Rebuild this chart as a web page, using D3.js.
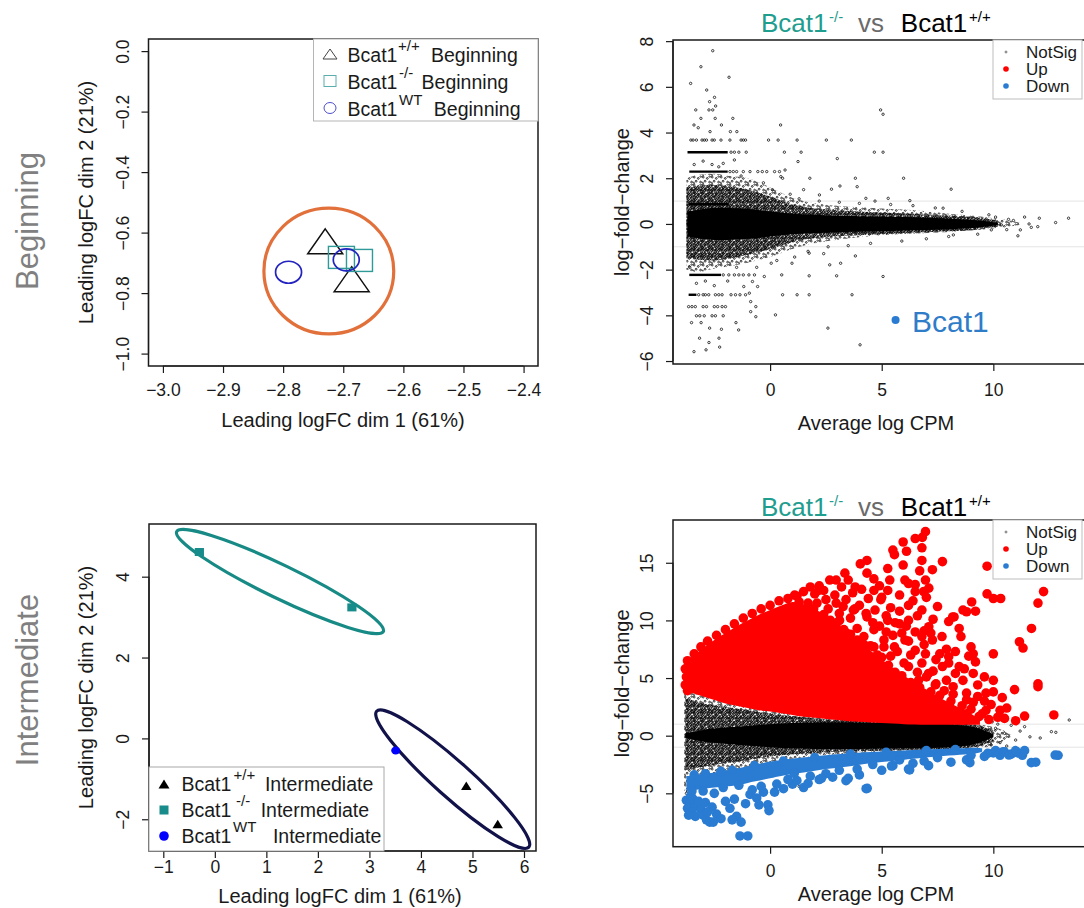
<!DOCTYPE html>
<html>
<head>
<meta charset="utf-8">
<script src="https://cdn.jsdelivr.net/npm/d3@7/dist/d3.min.js"></script>
<style>
  body { margin: 0; background: #fff; }
</style>
</head>
<body>
<div id="chart"></div>
<script>
/**
 * MDS coordinates, Beginning stage (dim1, dim2)
 */
var mdsBegTri = [[-2.730, -0.629], [-2.686, -0.754]];
var mdsBegSq = [[-2.703, -0.682], [-2.673, -0.692]];
var mdsBegCirc = [[-2.791, -0.731], [-2.695, -0.690]];
// center, end of major axis, end of minor axis
var begCircle = [[-2.724, -0.727], [-2.616, -0.727], [-2.724, -0.519]];

/**
 * MDS coordinates, Intermediate stage
 */
var mdsIntTri = [[4.88, -1.17], [5.49, -2.12]];
var mdsIntSq = [[-0.30, 4.61], [2.66, 3.24]];
var mdsIntCirc = [[3.51, -0.30]];
var koEllipse = [[1.265, 3.88], [-0.740, 5.115], [1.125, 3.51]];
var wtEllipse = [[4.617, -1.009], [3.140, 0.672], [4.385, -1.335]];

var begXTicks = [-3.0, -2.9, -2.8, -2.7, -2.6, -2.5, -2.4];
var begYTicks = [-1.0, -0.8, -0.6, -0.4, -0.2, 0.0];
var intXTicks = [-1, 0, 1, 2, 3, 4, 5, 6];
var intYTicks = [-2, 0, 2, 4];
var maXTicks = [0, 5, 10];
var maBegYTicks = [-6, -4, -2, 0, 2, 4, 6, 8];
var maIntYTicks = [-5, 0, 5, 10, 15];

var genoSup = ["+/+", "-/-", "WT"];

/**
 * MD plot, Beginning: cloud envelopes [avgLogCPM, low, high]
 */
var maBegOuter = [[-3.75, -2.0, 2.0], [-3.2, -2.1, 2.15], [-2.5, -1.95, 2.2], [-1.8, -1.85, 2.1], [-1.0, -1.7, 2.0],
  [0, -1.45, 1.6], [1, -1.1, 1.15], [2, -0.85, 0.9], [3.4, -0.65, 0.76], [5, -0.5, 0.68], [6.5, -0.42, 0.6],
  [8, -0.35, 0.45], [9.1, -0.28, 0.36], [10.4, -0.16, 0.2], [11.2, -0.04, 0.05]];
var maBegInner = [[-3.75, -1.5, 1.6], [-2.5, -1.6, 1.7], [-1.0, -1.35, 1.5], [0, -1.1, 1.2], [1, -0.8, 0.85],
  [2, -0.62, 0.68], [3.4, -0.52, 0.58], [5, -0.45, 0.5], [6.5, -0.38, 0.44], [8, -0.32, 0.37], [9.1, -0.26, 0.3],
  [10.2, -0.12, 0.15]];
var maBegCore = [[-3.7, -0.55, 0.55], [-2.5, -0.7, 0.7], [-1, -0.65, 0.65], [0, -0.55, 0.55], [1, -0.45, 0.45],
  [2, -0.4, 0.4], [3, -0.36, 0.36], [5, -0.32, 0.32], [7, -0.27, 0.27], [8.5, -0.21, 0.21], [9.5, -0.14, 0.14],
  [10.2, -0.05, 0.05]];
// rows of overlapping low-count genes [logFC, from, to]
var maBegStrips = [[3.14, -3.7, -1.9], [2.29, -3.62, -1.9], [0.86, -3.65, -1.85], [0, -3.75, -2.6],
  [-2.23, -3.62, -2.2], [-3.1, -3.65, -3.3]];
var maBegPts = [[-2.57, 7.58], [-3.10, 6.88], [-3.56, 6.15], [-1.84, 6.42], [-2.84, 5.86], [-2.49, 5.54], [-2.71, 5.35],
  [-2.44, 5.16], [-3.33, 4.99], [-2.74, 4.99], [-2.57, 4.99], [-3.10, 4.62], [-2.46, 4.62], [-1.67, 4.62], [-3.41, 4.33],
  [-3.22, 4.21], [-2.18, 4.33], [-2.69, 4.04], [-1.78, 4.04], [-1.49, 4.04], [0.47, 4.33], [4.95, 4.99], [5.06, 4.8],
  [-3.55, 3.67], [-3.45, 3.67], [-3.3, 3.67], [-3.05, 3.67], [-2.95, 3.67], [-2.85, 3.67], [-2.6, 3.67], [-2.5, 3.67],
  [-2.2, 3.67], [-1.8, 3.67], [-1.3, 3.67], [-1.2, 3.67], [-1.1, 3.67], [-0.07, 3.67], [0.36, 3.67], [1.21, 3.67],
  [2.52, 3.67], [3.64, 3.67], [-1.75, 3.14], [-1.6, 3.14], [-1.4, 3.14], [-1.07, 3.14], [0.64, 3.14], [1.39, 3.14],
  [4.67, 3.14], [5.06, 3.14],
  [1.25, 2.73], [3.01, 2.86], [-3.0, 2.75], [-2.6, 2.6], [-2.1, 2.65], [-1.6, 2.8], [-3.4, 2.6], [-2.3, 2.5],
  [-1.8, 2.29], [-1.65, 2.29], [-1.5, 2.29], [-1.2, 2.29], [-0.9, 2.29], [-0.55, 2.29], [-0.35, 2.29], [-0.15, 2.29],
  [0.2, 2.29], [0.42, 2.29],
  [0.67, 2.36], [0.48, 2.07], [5.98, 2.0], [8.11, 1.52], [2.75, 1.52], [3.13, 1.66], [3.9, 1.63], [3.82, 2.0],
  [1.78, 2.0], [0.56, 2.0], [2.21, 1.27], [4.29, 1.12], [5.29, 1.12], [6.26, 1.02], [7.75, 0.69],
  [13.37, 0.25], [12.79, 0.06], [12.06, 0.25], [11.6, 0.0], [11.99, -0.12], [11.21, -0.26], [11.1, -0.52],
  [10.68, 0.2], [10.36, -0.04], [8.21, -0.48], [9.91, -0.26],
  [3.82, -1.4], [1.75, -1.28], [0.98, -1.72], [0.52, -2.23], [1.75, -2.27], [2.67, -1.79], [3.16, -1.72],
  [2.98, -2.27], [5.06, -2.3], [-2.1, -2.23], [-1.85, -2.23], [-1.6, -2.23], [-1.4, -2.23], [-1.2, -2.23],
  [-0.95, -2.23], [-0.7, -2.23],
  [-3.2, -3.1], [-3.0, -3.1], [-2.9, -3.1], [-2.75, -3.1], [-2.45, -3.1], [-2.3, -3.1],
  [-2.15, -3.1], [-1.75, -3.1], [-1.55, -3.1], [-1.35, -3.1], [-1.1, -3.1], [0.56, -3.1], [1.21, -3.1], [1.75, -3.1],
  [3.67, -3.1], [-3.65, -3.62], [-3.5, -3.62], [-3.35, -3.62], [-3.0, -3.62], [-2.85, -3.62], [-2.5, -3.62],
  [-2.35, -3.62], [-2.15, -3.62], [-2.0, -3.62], [-0.64, -3.62], [-3.3, -4.02], [-3.15, -4.02], [-2.95, -4.02],
  [-2.6, -4.02], [-2.45, -4.02], [-2.1, -4.02], [0.24, -3.98], [-0.64, -4.06], [-0.87, -3.4], [2.59, -4.56],
  [4.03, -5.29], [-2.87, -5.51], [-3.41, -5.59], [-2.26, -5.39], [-2.29, -5.0], [-2.74, -5.19], [-3.16, -5.0],
  [-2.71, -4.56], [-2.18, -4.61], [-1.41, -4.64], [-3.52, -4.32], [-1.53, -4.32], [-3.09, -4.32], [-0.87, -3.84],
  [-0.56, -2.74], [-0.79, -2.52], [-1.18, -2.74], [-0.93, -3.03], [-0.26, -2.3], [0.05, -1.72],
  [-3.3, -2.6], [-2.9, -2.5], [-2.5, -2.7], [-1.9, -2.5], [-3.6, -1.9], [-1.5, -1.9],
  [0.9, 1.3], [1.3, 1.1], [1.7, -1.2], [2.2, 1.0], [2.6, -1.0], [3.1, 0.95], [3.5, -0.95], [4.0, 0.9], [4.5, -0.85],
  [4.7, 1.0], [5.4, 0.85], [5.9, -0.75], [6.4, 0.8], [7.0, -0.65], [7.4, 0.7], [8.0, -0.55], [8.6, 0.55], [9.3, -0.45],
  [9.8, 0.4], [10.1, 0.3], [10.6, -0.25], [10.9, 0.15], [11.4, 0.3], [11.7, -0.15], [-0.3, 1.8], [0.1, 1.5],
  [-0.6, -1.9], [0.3, -1.6], [1.1, -1.45], [-1.3, 2.1], [1.5, 1.5], [2.4, -1.3]];
var bcat1Point = [5.62, -4.2];

/**
 * MD plot, Intermediate
 */
var maIntOuter = [[-3.85, -4.8, 5.3], [-3.5, -4.3, 4.6], [-3.0, -3.8, 3.9], [-2.5, -3.4, 3.5], [-2.0, -3.1, 3.2],
  [-1.5, -2.9, 2.9], [-1.0, -2.7, 2.65], [0, -2.3, 2.3], [1, -2.0, 2.0], [2, -1.8, 1.75], [3, -1.6, 1.5],
  [4, -1.5, 1.35], [5, -1.4, 1.25], [6, -1.3, 1.15], [7, -1.25, 1.1], [8, -1.2, 1.05], [9, -1.15, 1.0],
  [9.8, -0.95, 0.85], [10.4, -0.5, 0.5], [10.8, -0.1, 0.1]];
var maIntInner = [[-3.8, -3.0, 3.3], [-3, -2.7, 2.8], [-2, -2.4, 2.5], [-1, -2.1, 2.2], [0, -1.8, 1.9],
  [1, -1.6, 1.7], [2, -1.5, 1.5], [3, -1.4, 1.4], [5, -1.3, 1.25], [7, -1.2, 1.15], [8.5, -1.1, 1.05],
  [9.4, -0.9, 0.85], [10, -0.45, 0.45]];
var maIntCore = [[-3.8, -0.2, 0.2], [-3, -0.5, 0.5], [-2, -0.7, 0.7], [-1, -0.85, 0.85], [0, -1.0, 1.0],
  [1, -1.1, 1.1], [2, -1.15, 1.15], [4, -1.15, 1.15], [6, -1.1, 1.1], [8, -1.0, 1.0], [9, -0.8, 0.8],
  [9.6, -0.45, 0.45], [10.0, -0.1, 0.1]];
var maIntPts = [[11.4, 0.78], [11.64, -0.1], [12.6, 0.35], [12.8, 0.29], [13.4, 1.36], [10.1, 0.64], [10.5, 0.2],
  [11.0, -0.38], [10.3, -0.6], [10.8, 0.9], [9.9, -0.8], [10.2, 1.0], [12.1, -0.2], [1.1, -4.4], [1.3, -4.4],
  [-3.75, -5.0], [-3.7, -4.8], [-3.8, 5.2], [-3.6, 5.0], [10.6, -0.9], [11.2, 0.4], [9.95, 1.2]];
var maIntUpCore = [[-3.8, 3.9, 6.2], [-3.5, 3.7, 6.8], [-3.0, 3.4, 7.6], [-2.5, 3.1, 8.3], [-2.0, 2.8, 8.9],
  [-1.5, 2.6, 9.5], [-1.0, 2.4, 10.0], [-0.5, 2.2, 10.5], [0.0, 2.1, 10.9], [0.5, 1.95, 11.3], [1.0, 1.8, 11.6],
  [1.5, 1.65, 11.4], [2.0, 1.55, 11.0], [2.5, 1.45, 10.4], [3.0, 1.35, 9.7], [3.5, 1.25, 9.0], [4.0, 1.2, 8.2],
  [4.5, 1.15, 7.4], [5.0, 1.1, 6.6], [5.5, 1.05, 5.9], [6.0, 1.0, 5.2], [6.5, 0.97, 4.6], [7.0, 0.95, 4.0],
  [7.5, 0.95, 3.4], [8.0, 0.95, 2.9], [8.5, 0.95, 2.4], [9.0, 0.95, 1.9], [9.4, 0.95, 1.4]];
var maIntUp = [[6.96, 17.7], [6.82, 17.2], [6.50, 17.1], [5.96, 16.8], [5.50, 16.1], [5.57, 15.7], [6.80, 16.3],
  [6.80, 15.2], [7.72, 15.1], [5.96, 14.8], [5.27, 14.5], [4.34, 15.2], [4.04, 14.9], [4.34, 14.1], [3.35, 14.1],
  [3.50, 13.5], [4.65, 13.6], [5.36, 13.5], [6.04, 13.5], [6.50, 13.1], [7.11, 12.8], [7.27, 14.4], [6.96, 13.5],
  [9.72, 14.7], [9.03, 11.6], [8.64, 10.9], [8.18, 10.3], [9.20, 10.8], [9.72, 12.3], [10.0, 11.9], [10.33, 11.9],
  [12.25, 12.5], [12.0, 11.5], [11.71, 9.3], [11.17, 8.15], [11.33, 7.6], [10.0, 7.1], [10.95, 4.0], [12.0, 4.5],
  [12.0, 4.25], [12.71, 1.8], [10.3, 2.2], [10.5, 1.5], [10.0, 3.8], [10.0, 4.8], [9.6, 5.1], [9.67, 3.7], [9.3, 3.4],
  [9.2, 6.4], [9.1, 5.4], [9.0, 7.7], [9.1, 7.1], [8.55, 8.6], [8.47, 9.3], [8.24, 10.3], [8.8, 10.75], [6.11, 16.0],
  [3.81, 12.9], [2.96, 13.5], [2.67, 13.5], [4.65, 12.6], [5.27, 12.6], [6.5, 12.5], [6.88, 12.5], [5.8, 12.2],
  [4.96, 11.8], [6.2, 11.3], [6.8, 10.9], [7.11, 9.45], [7.27, 8.3], [6.8, 8.6], [6.2, 10.0], [5.8, 9.7], [5.27, 10.0],
  [4.65, 9.2], [4.34, 10.3], [3.73, 10.9], [3.27, 11.2], [2.96, 11.5], [2.5, 11.8], [2.18, 12.6], [3.11, 10.0],
  [3.42, 8.9], [3.73, 7.7], [4.2, 7.1], [4.65, 7.7], [5.1, 8.3], [5.57, 7.7], [6.04, 8.3], [6.5, 7.4], [6.96, 7.1],
  [7.43, 6.6], [7.72, 6.0], [8.0, 6.85], [8.3, 5.4], [8.64, 4.8], [8.2, 4.25], [8.8, 3.7], [8.47, 6.0], [7.9, 4.8],
  [7.43, 4.5], [7.1, 5.4], [6.65, 4.8], [6.2, 6.0], [5.9, 4.25], [5.4, 5.1], [9.67, 2.2], [9.36, 1.65], [8.8, 1.9],
  [8.64, 1.35], [1.2, 12.1], [1.5, 12.5], [1.8, 12.9], [1.3, 11.6], [1.7, 11.5], [2.0, 12.3], [2.2, 13.0], [1.95, 11.0],
  [2.4, 10.5], [2.7, 10.0], [2.3, 9.6], [3.0, 9.8], [3.3, 9.2], [3.6, 8.8], [2.8, 8.9], [3.1, 10.6], [3.9, 8.3],
  [4.2, 8.6], [4.5, 7.8], [4.8, 7.0], [5.0, 6.8], [5.3, 6.1], [5.6, 5.5], [5.9, 5.2], [6.3, 4.6], [6.7, 4.2],
  [7.2, 3.8], [7.6, 3.5], [8.1, 3.0], [8.6, 2.6], [9.0, 2.3], [9.5, 1.9], [9.8, 1.4], [10.2, 1.6], [5.2, 9.0],
  [5.5, 8.7], [5.8, 10.8], [6.1, 9.5], [6.4, 11.7], [6.6, 10.4], [6.9, 9.1], [7.3, 10.1], [7.5, 11.2], [7.7, 8.6],
  [7.9, 7.5], [6.3, 7.0], [6.8, 6.3], [7.3, 5.6], [4.0, 11.3], [4.4, 11.9], [4.7, 10.9], [5.0, 12.0], [5.4, 11.1],
  [4.9, 13.0], [4.1, 12.7], [3.7, 12.4], [6.2, 13.2], [6.7, 14.3], [7.0, 12.0], [8.0, 9.9], [1.3, 10.3], [1.6, 10.9],
  [1.9, 10.2], [2.1, 11.5], [2.4, 12.6], [2.6, 11.0], [2.9, 12.2], [3.2, 12.9], [3.4, 11.8], [3.8, 11.0], [3.6, 10.2],
  [4.3, 10.6], [4.6, 9.8], [4.9, 9.5], [5.2, 10.4], [5.6, 9.8], [5.9, 8.9], [6.2, 8.2], [6.5, 9.0], [6.9, 7.9],
  [7.2, 8.9], [7.6, 7.1], [8.0, 6.3], [8.3, 7.3], [8.7, 5.8], [8.9, 6.9], [9.3, 4.4], [9.6, 3.0], [9.9, 2.7],
  [10.4, 3.3], [10.6, 2.4], [11.0, 1.3], [11.4, 1.7], [3.9, 9.3], [4.2, 7.9], [3.3, 8.6], [2.9, 9.4], [2.2, 10.2],
  [1.7, 9.8], [5.1, 7.7], [5.4, 6.9], [5.7, 7.3], [6.0, 6.3], [6.6, 5.5], [7.0, 5.1], [7.4, 4.4], [7.8, 3.9],
  [8.2, 3.6], [8.8, 3.1], [9.1, 2.9], [-3.7, 6.5], [-3.4, 7.1], [-3.1, 7.7], [-2.8, 8.2], [-2.4, 8.7], [-2.0, 9.2],
  [-1.6, 9.7], [-1.2, 10.2], [-0.8, 10.6], [-0.4, 11.0], [0.0, 11.3], [0.4, 11.7], [0.8, 11.9], [1.1, 12.2],
  [-3.8, 5.8], [-3.8, 4.4], [-3.75, 5.1], [-3.7, 3.9], [-3.5, 6.0], [-3.2, 4.0]];
var maIntDownCore = [[-3.75, -4.8, -3.5], [-3.3, -4.7, -3.4], [-2.5, -4.5, -3.2], [-1.5, -4.3, -2.85],
  [-1.0, -4.1, -2.65], [0, -3.7, -2.25], [0.5, -3.5, -2.1], [1.5, -3.2, -1.9], [2.5, -2.9, -1.7], [3.4, -2.7, -1.55],
  [4.5, -2.4, -1.42], [5.5, -2.2, -1.33], [6.4, -2.0, -1.25], [7.5, -1.8, -1.15], [8.5, -1.65, -1.1],
  [9.2, -1.55, -1.05], [9.5, -1.4, -1.1]];
var maIntDown = [[-3.75, -5.6], [-3.6, -5.9], [-3.45, -5.5], [-3.3, -6.1], [-3.7, -6.3], [-3.5, -6.6], [-3.2, -5.7],
  [-3.1, -6.4], [-3.35, -7.0], [-3.0, -6.9], [-2.85, -7.3], [-2.7, -7.5], [-2.55, -7.5], [-2.9, -5.8], [-2.6, -6.2],
  [-2.4, -6.8], [-3.55, -5.2], [-3.65, -6.9], [-2.8, -6.6], [-2.2, -7.2], [-2.0, -5.7], [-1.8, -6.3], [-1.6, -5.5],
  [-1.5, -7.0], [-1.3, -7.5], [-1.7, -7.3], [-1.35, -8.7], [-1.0, -8.7], [-1.1, -5.9], [-0.9, -5.1], [-0.6, -5.4],
  [-0.5, -6.0], [-0.1, -6.0], [-0.05, -6.5], [-0.3, -4.9], [0.2, -4.9], [0.6, -4.6], [1.0, -4.2], [1.5, -4.5],
  [2.2, -3.8], [2.8, -3.6], [3.4, -3.9], [4.3, -4.6], [4.0, -3.4], [5.0, -3.0], [5.5, -2.6], [6.2, -2.9], [6.4, -2.4],
  [7.1, -2.6], [8.1, -2.3], [8.8, -2.1], [9.0, -1.7], [9.6, -1.8], [10.0, -1.5], [10.5, -1.4], [10.8, -1.6],
  [11.1, -1.5], [11.3, -1.7], [11.4, -1.3], [11.9, -2.3], [12.9, -1.7], [10.3, -1.7], [7.5, -1.9], [6.9, -2.2],
  [5.8, -2.1], [4.6, -2.5], [3.9, -2.9], [3.1, -3.0], [2.5, -3.3], [1.8, -3.5], [1.2, -3.9], [0.8, -3.8], [0.3, -4.2],
  [-0.4, -4.4], [-0.8, -4.7], [-1.4, -4.3], [-2.1, -4.5], [-2.5, -5.0], [-3.0, -4.8], [-3.5, -4.8], [8.95, -2.34],
  [9.75, -1.53], [10.44, -1.39], [10.7, -1.68], [11.7, -2.34], [12.77, -1.68], [10.1, -1.3], [11.0, -1.3],
  [6.25, -2.97], [5.44, -2.63], [4.35, -4.57], [3.5, -3.7], [2.3, -3.7], [1.7, -4.13], [1.08, -3.27],
  [-3.4, -3.4], [-2.9, -3.3], [-2.2, -3.1], [-1.7, -3.0], [-0.7, -2.6], [0.6, -2.2], [2.0, -1.9], [3.6, -1.6],
  [5.2, -1.45], [7.0, -1.3], [8.3, -1.2]];

var maLegend = ["NotSig", "Up", "Down"];

var FONT = "'Liberation Sans', Arial, Helvetica, sans-serif";
var INK = "#1a1a1a";
var TEAL_T = "#1f9d8f";
var TEAL = "#178c8a";
var RED = "#ff0000";
var BLUE = "#2a7bd2";

var svg = d3.select("#chart").append("svg")
    .attr("width", 1084).attr("height", 908)
    .style("display", "block")
    .attr("font-family", FONT);
svg.append("rect").attr("width", 1084).attr("height", 908).attr("fill", "#fff");

var defs = svg.append("defs");

// speckle fills for the dense NotSig clouds
const addSpeckle = (id, w, h, dots) => {
    var pat = defs.append("pattern").attr("id", id)
        .attr("patternUnits", "userSpaceOnUse")
        .attr("width", w).attr("height", h);
    dots.forEach(function (d) {
        pat.append("circle").attr("cx", d[0]).attr("cy", d[1]).attr("r", 0.9)
            .attr("fill", "none").attr("stroke", "#000").attr("stroke-width", 0.8);
    });
};
addSpeckle("speckSparse", 9, 8, [[1.2, 1.1], [5.3, 2.4], [3.1, 5.2], [7.6, 6.1], [0.6, 7.2], [7.9, 0.4]]);
addSpeckle("speckDense", 7, 6, [[1, 1], [3.6, 0.6], [5.8, 2.1], [2.3, 3.2], [4.6, 4.4], [0.4, 5.1], [6.6, 5.3],
  [3.4, 5.7], [2.5, 1.6], [5.4, 3.4], [1.0, 4.2]]);

const makePanel = (box, xDomain, yDomain) => {
    var x = d3.scaleLinear().domain(xDomain).range([box.left, box.right]);
    var y = d3.scaleLinear().domain(yDomain).range([box.bottom, box.top]);
    return { x: x, y: y, box: box };
};

var pA = makePanel({ left: 148.5, right: 538, top: 39, bottom: 366 }, [-3.024, -2.376], [-1.041, 0.04]);
var pB = makePanel({ left: 673, right: 1092, top: 40, bottom: 364 }, [-4.35, 14.42], [-6.13, 8.05]);
var pC = makePanel({ left: 149, right: 536, top: 524, bottom: 851 }, [-1.2775, 6.233], [-2.785, 5.303]);
var pD = makePanel({ left: 673, right: 1092, top: 520, bottom: 846.7 }, [-4.35, 14.42], [-9.63, 18.71]);

/**
 * R style axes: ticks out, axis line only between first and last tick
 */
const drawAxes = (p, xTicks, yTicks, fmt, xPad) => {
    var gx = svg.append("g")
        .attr("transform", "translate(0," + p.box.bottom + ")")
        .call(d3.axisBottom(p.x).tickValues(xTicks).tickSize(7).tickPadding(xPad).tickFormat(fmt));
    gx.attr("font-family", FONT).attr("font-size", 17.5);
    gx.select(".domain").remove();
    gx.append("line")
        .attr("x1", p.x(xTicks[0])).attr("x2", p.x(xTicks[xTicks.length - 1]))
        .attr("stroke", INK).attr("stroke-width", 1.2);
    gx.selectAll(".tick line").attr("stroke", INK).attr("stroke-width", 1.2);
    gx.selectAll(".tick text").attr("fill", INK);

    var gy = svg.append("g")
        .attr("transform", "translate(" + p.box.left + ",0)")
        .call(d3.axisLeft(p.y).tickValues(yTicks).tickSize(7).tickFormat(fmt));
    gy.attr("font-family", FONT).attr("font-size", 17.5);
    gy.select(".domain").remove();
    gy.append("line")
        .attr("y1", p.y(yTicks[0])).attr("y2", p.y(yTicks[yTicks.length - 1]))
        .attr("stroke", INK).attr("stroke-width", 1.2);
    gy.selectAll(".tick line").attr("stroke", INK).attr("stroke-width", 1.2);
    gy.selectAll(".tick text")
        .attr("x", 0).attr("dy", 0)
        .attr("fill", INK)
        .attr("text-anchor", "middle")
        .attr("dominant-baseline", "central")
        .attr("transform", "translate(-26,0) rotate(-90)");
};

const drawBox = (p) => {
    svg.append("rect")
        .attr("x", p.box.left).attr("y", p.box.top)
        .attr("width", p.box.right - p.box.left).attr("height", p.box.bottom - p.box.top)
        .attr("fill", "none").attr("stroke", INK).attr("stroke-width", 1.5);
};

const axisTitles = (p, xLab, xMid, xBase, yLab, yX) => {
    svg.append("text")
        .attr("x", xMid).attr("y", xBase)
        .attr("text-anchor", "middle").attr("font-size", 20).attr("fill", INK)
        .text(xLab);
    svg.append("text")
        .attr("transform", "translate(" + yX + "," + (p.box.top + p.box.bottom) / 2 + ") rotate(-90)")
        .attr("text-anchor", "middle").attr("dominant-baseline", "central")
        .attr("font-size", 20).attr("fill", INK)
        .text(yLab);
};

const sideLabel = (text, cy) => {
    svg.append("text")
        .attr("transform", "translate(27," + cy + ") rotate(-90)")
        .attr("text-anchor", "middle").attr("dominant-baseline", "central")
        .attr("font-size", 31).attr("fill", "#808080")
        .text(text);
};

const ellipseFrom = (g, p, e, color) => {
    var cx = p.x(e[0][0]), cy = p.y(e[0][1]);
    var mx = p.x(e[1][0]) - cx, my = p.y(e[1][1]) - cy;
    var nx = p.x(e[2][0]) - cx, ny = p.y(e[2][1]) - cy;
    var ang = Math.atan2(my, mx) * 180 / Math.PI;
    g.append("ellipse")
        .attr("cx", cx).attr("cy", cy)
        .attr("rx", Math.hypot(mx, my)).attr("ry", Math.hypot(nx, ny))
        .attr("transform", "rotate(" + ang + "," + cx + "," + cy + ")")
        .attr("fill", "none").attr("stroke", color).attr("stroke-width", 3.2);
};

const triPath = (cx, cy, w, h) =>
    "M" + cx + "," + (cy - h / 2) + "L" + (cx + w / 2) + "," + (cy + h / 2) + "L" + (cx - w / 2) + "," + (cy + h / 2) + "Z";

// ---------------------------------------------------------------- panel A
sideLabel("Beginning", 221);
var gA = svg.append("g");
ellipseFrom(gA, pA, begCircle, "#e2703a");
gA.selectAll("path.tri").data(mdsBegTri).enter().append("path")
    .attr("d", function (d) { return triPath(pA.x(d[0]), pA.y(d[1]), 35, 25); })
    .attr("fill", "none").attr("stroke", "#111").attr("stroke-width", 1.5);
gA.selectAll("rect.sq").data(mdsBegSq).enter().append("rect")
    .attr("x", function (d) { return pA.x(d[0]) - 13; })
    .attr("y", function (d) { return pA.y(d[1]) - 11; })
    .attr("width", 26).attr("height", 22)
    .attr("fill", "none").attr("stroke", "#2f9a98").attr("stroke-width", 1.4);
gA.selectAll("ellipse.circ").data(mdsBegCirc).enter().append("ellipse")
    .attr("cx", function (d) { return pA.x(d[0]); })
    .attr("cy", function (d) { return pA.y(d[1]); })
    .attr("rx", 13).attr("ry", 11)
    .attr("fill", "none").attr("stroke", "#2323c0").attr("stroke-width", 1.7);
drawBox(pA);
drawAxes(pA, begXTicks, begYTicks, d3.format(".1f"), 11);
axisTitles(pA, "Leading logFC dim 1 (61%)", 343, 427, "Leading logFC dim 2 (21%)", 86);

// legend A
svg.append("rect").attr("x", 313.5).attr("y", 39).attr("width", 224.5).attr("height", 82)
    .attr("fill", "#fff").attr("stroke", "#b5b5b5").attr("stroke-width", 1);
var legA = [54, 81, 108];
svg.append("path").attr("d", triPath(330, legA[0], 14, 10)).attr("fill", "none").attr("stroke", "#444").attr("stroke-width", 1);
svg.append("rect").attr("x", 324).attr("y", legA[1] - 5.5).attr("width", 12).attr("height", 11)
    .attr("fill", "none").attr("stroke", "#5aaeac").attr("stroke-width", 1);
svg.append("ellipse").attr("cx", 330).attr("cy", legA[2]).attr("rx", 6).attr("ry", 5.5)
    .attr("fill", "none").attr("stroke", "#5050cc").attr("stroke-width", 1);
var legASupX = [398, 399, 399];
var legAWordX = [431, 421.6, 433.8];
legA.forEach(function (cy, i) {
    var t = svg.append("text").attr("font-size", 19.5).attr("fill", INK);
    t.append("tspan").attr("x", 347.6).attr("y", cy + 7.5).text("Bcat1");
    t.append("tspan").attr("x", legASupX[i]).attr("y", cy - 3.5).attr("font-size", 15).text(genoSup[i]);
    t.append("tspan").attr("x", legAWordX[i]).attr("y", cy + 7.5).text("Beginning");
});

// ---------------------------------------------------------------- MD plot helpers
const clipFor = (id, p) => {
    defs.append("clipPath").attr("id", id).append("rect")
        .attr("x", p.box.left).attr("y", p.box.top)
        .attr("width", p.box.right - p.box.left).attr("height", p.box.bottom - p.box.top);
    return svg.append("g").attr("clip-path", "url(#" + id + ")");
};

const band = (g, p, rows, fill) => {
    var area = d3.area()
        .x(function (d) { return p.x(d[0]); })
        .y0(function (d) { return p.y(d[1]); })
        .y1(function (d) { return p.y(d[2]); })
        .curve(d3.curveCatmullRom);
    g.append("path").datum(rows).attr("d", area).attr("fill", fill);
};

const refLines = (g, p) => {
    [-1, 1].forEach(function (v) {
        g.append("line").attr("x1", p.box.left).attr("x2", p.box.right)
            .attr("y1", p.y(v)).attr("y2", p.y(v))
            .attr("stroke", "#e4e4e4").attr("stroke-width", 1);
    });
};

const smallPts = (g, p, pts) => {
    g.selectAll(null).data(pts).enter().append("circle")
        .attr("cx", function (d) { return p.x(d[0]); })
        .attr("cy", function (d) { return p.y(d[1]); })
        .attr("r", 1.2)
        .attr("fill", "none").attr("stroke", "#111").attr("stroke-width", 0.8);
};

const bigPts = (g, p, pts, color) => {
    g.selectAll(null).data(pts).enter().append("circle")
        .attr("cx", function (d) { return p.x(d[0]); })
        .attr("cy", function (d) { return p.y(d[1]); })
        .attr("r", 4.8)
        .attr("fill", color);
};

const maTitle = (base) => {
    var t = svg.append("text").attr("font-size", 26);
    t.append("tspan").attr("x", 761).attr("y", base).attr("fill", TEAL_T).text("Bcat1");
    t.append("tspan").attr("x", 829).attr("y", base - 10).attr("font-size", 15).attr("fill", TEAL_T).text("-/-");
    t.append("tspan").attr("x", 858).attr("y", base).attr("fill", "#6a6a6a").text("vs");
    t.append("tspan").attr("x", 900.8).attr("y", base).attr("fill", "#000").text("Bcat1");
    t.append("tspan").attr("x", 969).attr("y", base - 10).attr("font-size", 15).attr("fill", "#000").text("+/+");
};

const maLegendBox = (top) => {
    svg.append("rect").attr("x", 993).attr("y", top).attr("width", 89).attr("height", 59)
        .attr("fill", "#fff").attr("stroke", "#bdbdbd").attr("stroke-width", 1);
    var rows = [12, 29, 46];
    svg.append("circle").attr("cx", 1006).attr("cy", top + rows[0]).attr("r", 1)
        .attr("fill", "none").attr("stroke", "#444").attr("stroke-width", 0.7);
    svg.append("circle").attr("cx", 1006).attr("cy", top + rows[1]).attr("r", 2.8).attr("fill", RED);
    svg.append("circle").attr("cx", 1006).attr("cy", top + rows[2]).attr("r", 2.8).attr("fill", BLUE);
    maLegend.forEach(function (lab, i) {
        svg.append("text").attr("x", 1026).attr("y", top + rows[i] + 6)
            .attr("font-size", 17).attr("fill", INK).text(lab);
    });
};

// ---------------------------------------------------------------- panel B
var gB = clipFor("clipB", pB);
refLines(gB, pB);
band(gB, pB, maBegOuter, "url(#speckSparse)");
band(gB, pB, maBegInner, "url(#speckDense)");
band(gB, pB, maBegCore, "#000");
gB.selectAll(null).data(maBegStrips).enter().append("line")
    .attr("x1", function (d) { return pB.x(d[1]); })
    .attr("x2", function (d) { return pB.x(d[2]); })
    .attr("y1", function (d) { return pB.y(d[0]); })
    .attr("y2", function (d) { return pB.y(d[0]); })
    .attr("stroke", "#000").attr("stroke-width", 2.4);
smallPts(gB, pB, maBegPts);
gB.append("circle").attr("cx", pB.x(bcat1Point[0])).attr("cy", pB.y(bcat1Point[1]))
    .attr("r", 4).attr("fill", BLUE);
gB.append("text").attr("x", pB.x(bcat1Point[0]) + 16.5).attr("y", pB.y(bcat1Point[1]) + 12)
    .attr("font-size", 30).attr("fill", "#2f7cc9").text("Bcat1");
drawBox(pB);
drawAxes(pB, maXTicks, maBegYTicks, d3.format("d"), 12.6);
axisTitles(pB, "Average log CPM", 876, 430, "log\u2212fold\u2212change", 622);
maTitle(31.7);
maLegendBox(40);

// ---------------------------------------------------------------- panel C
sideLabel("Intermediate", 680);
var gC = svg.append("g");
ellipseFrom(gC, pC, koEllipse, "#178a85");
ellipseFrom(gC, pC, wtEllipse, "#12124a");
gC.selectAll(null).data(mdsIntTri).enter().append("path")
    .attr("d", function (d) { return triPath(pC.x(d[0]), pC.y(d[1]), 10.5, 8.5); })
    .attr("fill", "#000");
gC.selectAll(null).data(mdsIntSq).enter().append("rect")
    .attr("x", function (d) { return pC.x(d[0]) - 4.6; })
    .attr("y", function (d) { return pC.y(d[1]) - 4; })
    .attr("width", 9.2).attr("height", 8)
    .attr("fill", TEAL);
gC.selectAll(null).data(mdsIntCirc).enter().append("ellipse")
    .attr("cx", function (d) { return pC.x(d[0]); })
    .attr("cy", function (d) { return pC.y(d[1]); })
    .attr("rx", 4.5).attr("ry", 4)
    .attr("fill", "#0000ff");
drawBox(pC);
drawAxes(pC, intXTicks, intYTicks, d3.format("d"), 2.6);
axisTitles(pC, "Leading logFC dim 1 (61%)", 340, 903, "Leading logFC dim 2 (21%)", 86);

// legend C
svg.append("rect").attr("x", 149).attr("y", 767).attr("width", 235).attr("height", 84)
    .attr("fill", "#fff").attr("stroke", "#a8a8a8").attr("stroke-width", 1);
var legC = [784, 810, 836];
svg.append("path").attr("d", triPath(164, legC[0], 11, 9)).attr("fill", "#000");
svg.append("rect").attr("x", 159.5).attr("y", legC[1] - 4.5).attr("width", 9).attr("height", 9).attr("fill", TEAL);
svg.append("circle").attr("cx", 164).attr("cy", legC[2]).attr("r", 4.8).attr("fill", "#0000ff");
var legCSupX = [233.6, 236, 233];
var legCWordX = [264.9, 260.7, 272.9];
legC.forEach(function (cy, i) {
    var t = svg.append("text").attr("font-size", 19.5).attr("fill", INK);
    t.append("tspan").attr("x", 181.4).attr("y", cy + 6.5).text("Bcat1");
    t.append("tspan").attr("x", legCSupX[i]).attr("y", cy - 4).attr("font-size", 15).text(genoSup[i]);
    t.append("tspan").attr("x", legCWordX[i]).attr("y", cy + 6.5).text("Intermediate");
});

// ---------------------------------------------------------------- panel D
var gD = clipFor("clipD", pD);
refLines(gD, pD);
band(gD, pD, maIntOuter, "url(#speckSparse)");
band(gD, pD, maIntInner, "url(#speckDense)");
band(gD, pD, maIntCore, "#000");
smallPts(gD, pD, maIntPts);
band(gD, pD, maIntDownCore, BLUE);
bigPts(gD, pD, maIntDown, BLUE);
band(gD, pD, maIntUpCore, RED);
bigPts(gD, pD, maIntUp, RED);
drawBox(pD);
drawAxes(pD, maXTicks, maIntYTicks, d3.format("d"), 10.6);
axisTitles(pD, "Average log CPM", 876, 901, "log\u2212fold\u2212change", 622);
maTitle(516);
maLegendBox(520);
</script>
</body>
</html>
